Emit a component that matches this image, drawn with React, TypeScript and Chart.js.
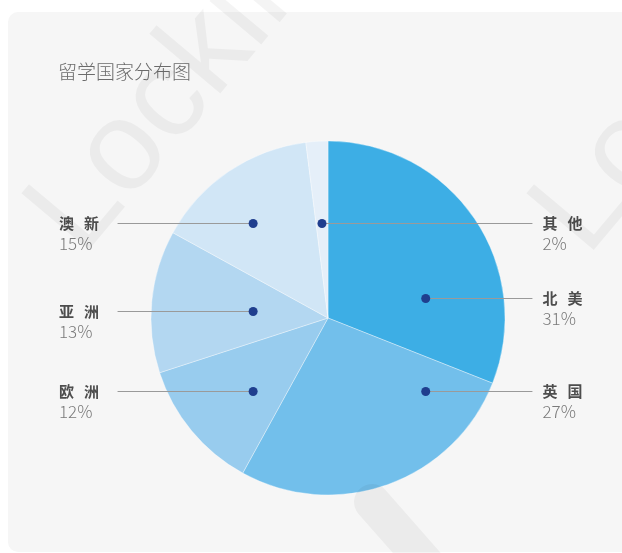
import React, { useEffect, useRef } from 'react';
import { Chart, registerables } from 'chart.js';

Chart.register(...registerables);

const categories = ['北美', '英国', '欧洲', '亚洲', '澳新', '其他'];
const shares = [31, 27, 12, 13, 15, 2];
const sliceColors = ['#3daee5', '#72bfeb', '#98ccee', '#b3d7f1', '#d1e6f6', '#e5eff9'];
const titleText = '留学国家分布图';
const watermarkText = 'Lockin';

const W = 622;
const H = 553;
const CJK = '"Noto Sans CJK SC", "Noto Sans", sans-serif';

// callout layout (multiples of the pie radius, relative to the pie centre)
const callouts: Record<string, { side: 'left' | 'right'; dx: number; dy: number }> = {
  '北美': { side: 'right', dx: 0.552, dy: -0.113 },
  '英国': { side: 'right', dx: 0.552, dy: 0.411 },
  '欧洲': { side: 'left', dx: -0.423, dy: 0.411 },
  '亚洲': { side: 'left', dx: -0.423, dy: -0.039 },
  '澳新': { side: 'left', dx: -0.423, dy: -0.535 },
  '其他': { side: 'right', dx: -0.034, dy: -0.535 },
};

const cardPlugin = {
  id: 'card',
  beforeDraw(chart: any) {
    const ctx = chart.ctx;
    ctx.save();
    ctx.fillStyle = '#f6f6f6';
    ctx.beginPath();
    (ctx as any).roundRect(8, 12, 660, 540, 10);
    ctx.fill();
    ctx.fillStyle = '#6b6b6b';
    ctx.font = `300 19px ${CJK}`;
    ctx.textBaseline = 'middle';
    ctx.textAlign = 'left';
    ctx.fillText(titleText, 58, 72);
    ctx.restore();
  },
};

const calloutPlugin = {
  id: 'callouts',
  afterDatasetsDraw(chart: any) {
    const ctx = chart.ctx;
    const meta = chart.getDatasetMeta(0);
    const arc0 = meta.data[0];
    const cx = arc0.x;
    const cy = arc0.y;
    const R = arc0.outerRadius;
    ctx.save();
    categories.forEach((name, i) => {
      const c = callouts[name];
      const dx = cx + c.dx * R;
      const dy = Math.round(cy + c.dy * R) + 0.5;
      const lineEnd = c.side === 'right' ? cx + 1.155 * R : cx - 1.189 * R;
      const textX = c.side === 'right' ? cx + 1.212 * R : cx - 1.52 * R;
      ctx.strokeStyle = '#9a9a9a';
      ctx.lineWidth = 1;
      ctx.beginPath();
      ctx.moveTo(dx, dy);
      ctx.lineTo(lineEnd, dy);
      ctx.stroke();
      ctx.fillStyle = '#1f3e8e';
      ctx.beginPath();
      ctx.arc(dx, dy, 4.5, 0, Math.PI * 2);
      ctx.fill();
      ctx.fillStyle = '#4d4d4d';
      ctx.font = `700 15px ${CJK}`;
      ctx.textBaseline = 'middle';
      ctx.textAlign = 'left';
      let x = textX;
      for (const ch of name) {
        ctx.fillText(ch, x, dy);
        x += ctx.measureText(ch).width + 10;
      }
      ctx.fillStyle = '#7a7a7a';
      ctx.font = `300 17px ${CJK}`;
      ctx.fillText(`${shares[i]}%`, textX, dy + 20);
    });
    ctx.restore();
  },
};

const watermarkPlugin = {
  id: 'watermark',
  afterDraw(chart: any) {
    const ctx = chart.ctx;
    const spots = [
      [82, 258],
      [587, 258],
    ];
    ctx.save();
    ctx.fillStyle = 'rgba(0,0,0,0.042)';
    ctx.strokeStyle = 'rgba(0,0,0,0.042)';
    ctx.font = '400 128px "Liberation Sans", Arial, sans-serif';
    ctx.textBaseline = 'alphabetic';
    ctx.textAlign = 'left';
    for (const [x, y] of spots) {
      ctx.save();
      ctx.translate(x, y);
      ctx.rotate((-50 * Math.PI) / 180);
      ctx.fillText(watermarkText, 0, 0);
      ctx.restore();
    }
    // partial watermark stroke at the bottom edge
    ctx.lineCap = 'round';
    ctx.lineWidth = 36;
    ctx.beginPath();
    ctx.moveTo(372, 502);
    ctx.lineTo(445, 585);
    ctx.stroke();
    ctx.restore();
  },
};

export default function App() {
  const ref = useRef<HTMLCanvasElement | null>(null);
  useEffect(() => {
    if (!ref.current) return;
    const chart = new Chart(ref.current, {
      type: 'pie',
      data: {
        labels: categories,
        datasets: [
          {
            data: shares,
            backgroundColor: sliceColors,
            borderColor: 'rgba(255,255,255,0.35)',
            borderWidth: 1,
          },
        ],
      },
      options: {
        animation: false,
        responsive: false,
        devicePixelRatio: 1,
        layout: { padding: { top: 140.5, bottom: 57.5, left: 150.5, right: 116.5 } },
        plugins: {
          legend: { display: false },
          tooltip: { enabled: false },
          title: { display: false },
        },
      },
      plugins: [cardPlugin, calloutPlugin, watermarkPlugin],
    });
    return () => chart.destroy();
  }, []);
  return (
    <div style={{ position: 'fixed', left: 0, top: 0, width: W, height: H }}>
      <canvas ref={ref} width={W} height={H} style={{ display: 'block', width: W, height: H }} />
    </div>
  );
}
